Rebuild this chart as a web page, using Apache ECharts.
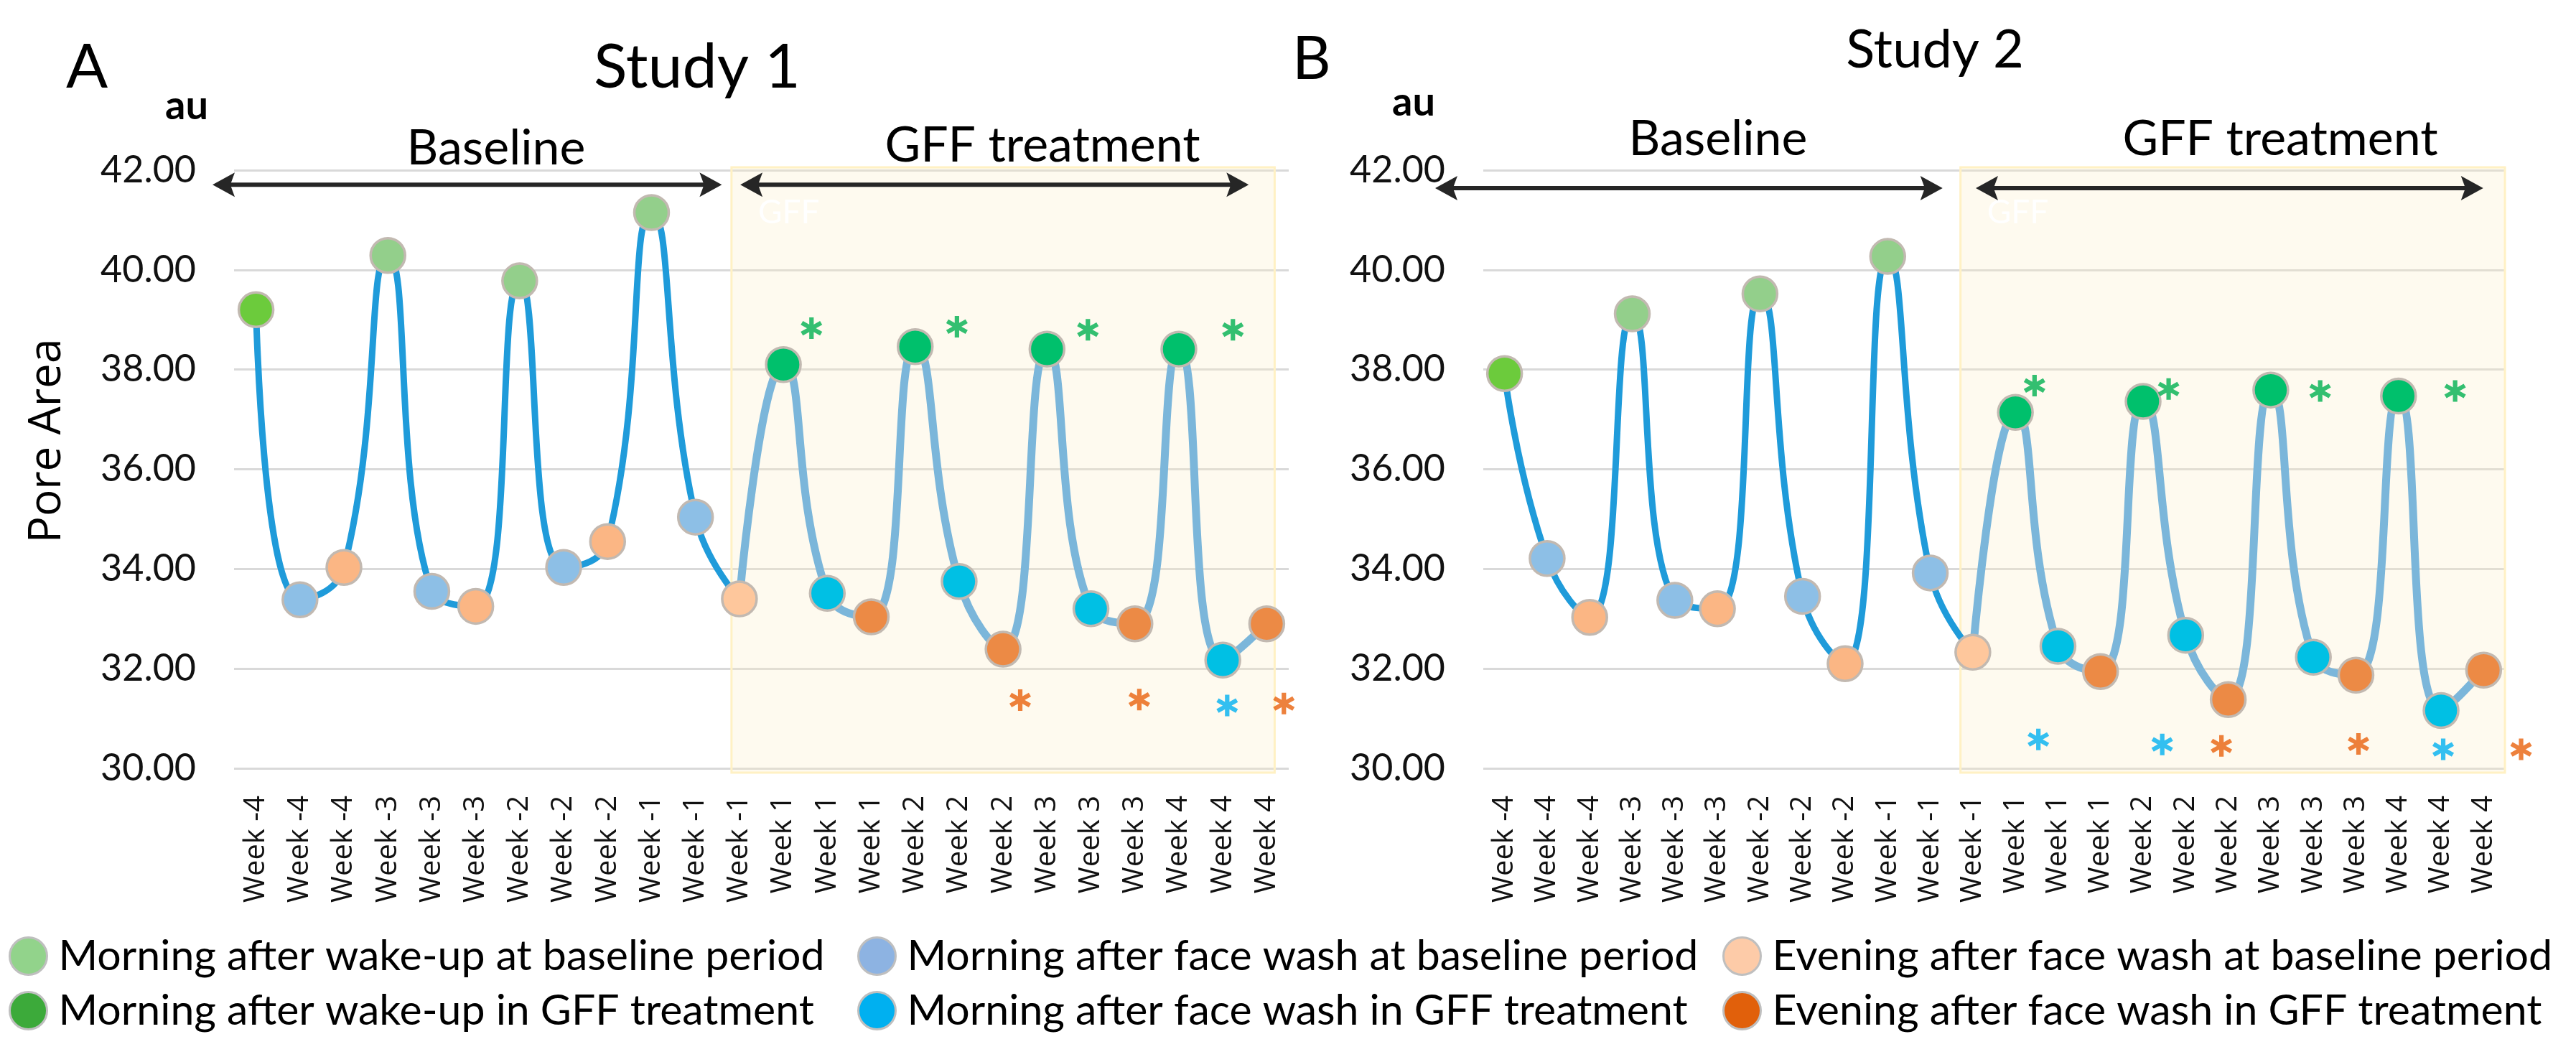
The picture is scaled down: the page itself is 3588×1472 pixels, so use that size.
<!DOCTYPE html>
<html><head><meta charset="utf-8">
<script src="https://cdn.jsdelivr.net/npm/echarts@6/dist/echarts.min.js"></script>
<style>html,body{margin:0;padding:0;background:#fff}#c{width:3588px;height:1472px}</style>
</head><body><div id="c"></div>
<script>
// ---------------- DATA ----------------
const categories = ['Week -4','Week -4','Week -4','Week -3','Week -3','Week -3','Week -2','Week -2','Week -2','Week -1','Week -1','Week -1',
                    'Week 1','Week 1','Week 1','Week 2','Week 2','Week 2','Week 3','Week 3','Week 3','Week 4','Week 4','Week 4'];
const pointTypes = ['wakeBase','washBase','eveBase','wakeBase','washBase','eveBase','wakeBase','washBase','eveBase','wakeBase','washBase','eveBase',
                    'wakeGFF','washGFF','eveGFF','wakeGFF','washGFF','eveGFF','wakeGFF','washGFF','eveGFF','wakeGFF','washGFF','eveGFF'];
const study1 = [39.20,33.38,34.03,40.29,33.55,33.25,39.78,34.03,34.55,41.15,35.04,33.40,
                38.10,33.51,33.04,38.46,33.75,32.39,38.41,33.20,32.90,38.41,32.17,32.90];
const study2 = [37.92,34.21,33.03,39.12,33.37,33.20,39.52,33.45,32.10,40.27,33.92,32.33,
                37.14,32.45,31.94,37.36,32.67,31.38,37.59,32.23,31.87,37.47,31.16,31.97];
const yMin = 30, yMax = 42, yStep = 2;
const baselineLastIndex = 11;
// significance asterisks (x in category-index units)
const study1StarX = [12.64,15.95,18.93,22.23,17.39,20.10,23.39,22.10];
const study1StarY = [38.83,38.86,38.80,38.80,31.37,31.38,31.30,31.26];
const study1StarType = ['wakeGFF','wakeGFF','wakeGFF','wakeGFF','eveGFF','eveGFF','eveGFF','washGFF'];
const study2StarX = [12.45,15.60,19.16,22.33,12.54,15.45,22.05,16.84,20.06,23.88];
const study2StarY = [37.68,37.61,37.57,37.57,30.58,30.48,30.38,30.45,30.49,30.38];
const study2StarType = ['wakeGFF','wakeGFF','wakeGFF','wakeGFF','washGFF','washGFF','washGFF','eveGFF','eveGFF','eveGFF'];
// period arrows [from, to, y] and treatment shading [from, to]
const study1Arrows = [[-0.99,10.60,41.71],[11.02,22.59,41.71]];
const study2Arrows = [[-1.63,10.29,41.64],[11.07,22.99,41.64]];
const study1Shade = [10.82,23.18];
const study2Shade = [10.71,23.50];
const seriesNames = {
  wakeBase:'Morning after wake-up at baseline period',
  wakeGFF:'Morning after wake-up in GFF treatment',
  washBase:'Morning after face wash at baseline period',
  washGFF:'Morning after face wash in GFF treatment',
  eveBase:'Evening after face wash at baseline period',
  eveGFF:'Evening after face wash in GFF treatment'
};
const typeOrder = ['wakeBase','washBase','eveBase','wakeGFF','washGFF','eveGFF'];

// ---------------- STYLE ----------------
const markerColor = {wakeBase:'#93CF8B', washBase:'#8DBFE6', eveBase:'#FBB684', wakeGFF:'#00C06C', washGFF:'#00C0E4', eveGFF:'#EC8A45'};
const markerOverride = {0:'#6CCB3C', 11:'#FEC79C'};
const legendColor = {wakeBase:'#92D38B', washBase:'#8DB3E2', eveBase:'#FDCBA8', wakeGFF:'#3CAA3A', washGFF:'#00B0F0', eveGFF:'#E1600B'};
const starColor = {wakeGFF:'#00B050', washGFF:'#00B0F0', eveGFF:'#E8620C'};
const baseLineColor = '#1F9BDA', gffLineColor = '#7BB6DA';
const F = 'Lato, "Open Sans", sans-serif';
const asterisk = 'path://M40 0L60 0L60 100L40 100Z M11.7 16.34L98.3 66.34L88.3 83.66L1.7 33.66Z M98.3 33.66L11.7 83.66L1.7 66.34L88.3 16.34Z';

const grids = [{left:326, top:237, width:1469, height:833}, {left:2066, top:237, width:1423, height:833}];

const xAxes = [], yAxes = [], series = [];
function panel(g, values, starX, starY, starType, arrows, shade) {
  xAxes.push({type:'category', gridIndex:g, data:categories, boundaryGap:true,
    axisLine:{show:false}, axisTick:{show:false}, splitLine:{show:false},
    axisLabel:{rotate:90, interval:0, margin:38, fontSize:40, fontFamily:'"Open Sans", sans-serif', color:'#111'}});
  xAxes.push({type:'value', gridIndex:g, min:-0.5, max:categories.length-0.5, show:false});
  yAxes.push({type:'value', gridIndex:g, min:yMin, max:yMax, interval:yStep,
    axisLine:{show:false}, axisTick:{show:false},
    splitLine:{lineStyle:{color:'#D9D9D9', width:3}},
    axisLabel:{formatter:v=>v.toFixed(2), fontSize:52, margin:53, fontFamily:F, color:'#111'}});
  const xc = g*2, xv = g*2+1;
  // shading
  series.push({type:'custom', xAxisIndex:xv, yAxisIndex:g, z:1, silent:true, clip:false,
    data:[[shade[0], shade[1]]], encode:{x:[0,1]},
    renderItem:(p, api)=>{
      const a = api.coord([api.value(0), yMax]); const b = api.coord([api.value(1), yMin]);
      return {type:'group', children:[
        {type:'rect', shape:{x:a[0], y:a[1]-4, width:b[0]-a[0], height:b[1]-a[1]+10},
          style:{fill:'rgba(250,236,196,0.28)', stroke:'#FFF1C4', lineWidth:3}},
        {type:'text', x:a[0]+37, y:a[1]+36, style:{text:'GFF', fill:'#ffffff', font:'46px '+F}}
      ]};
    }});
  // arrows
  series.push({type:'custom', xAxisIndex:xv, yAxisIndex:g, z:5, silent:true, clip:false,
    data:arrows, encode:{x:[0,1], y:2},
    renderItem:(p, api)=>{
      const y = api.value(2);
      const a = api.coord([api.value(0), y]); const b = api.coord([api.value(1), y]);
      const L = 31, W = 17, c = '#262626';
      return {type:'group', children:[
        {type:'line', shape:{x1:a[0]+20, y1:a[1], x2:b[0]-20, y2:b[1]}, style:{stroke:c, lineWidth:6}},
        {type:'polygon', shape:{points:[[a[0],a[1]],[a[0]+L,a[1]-W],[a[0]+L*0.8,a[1]],[a[0]+L,a[1]+W]]}, style:{fill:c}},
        {type:'polygon', shape:{points:[[b[0],b[1]],[b[0]-L,b[1]-W],[b[0]-L*0.8,b[1]],[b[0]-L,b[1]+W]]}, style:{fill:c}}
      ]};
    }});
  // lines
  series.push({type:'line', xAxisIndex:xc, yAxisIndex:g, z:3, silent:true, smooth:0.5, showSymbol:false,
    data:values.map((v,i)=> i<=baselineLastIndex ? v : '-'),
    lineStyle:{color:baseLineColor, width:9}});
  series.push({type:'line', xAxisIndex:xc, yAxisIndex:g, z:3, silent:true, smooth:0.5, showSymbol:false,
    data:values.map((v,i)=> i>=baselineLastIndex ? v : '-'),
    lineStyle:{color:gffLineColor, width:11}});
  // markers per type
  typeOrder.forEach(t=>{
    const d = [];
    values.forEach((v,i)=>{ if (pointTypes[i]===t) d.push(markerOverride[i] ? {value:[i,v], itemStyle:{color:markerOverride[i]}} : [i,v]); });
    series.push({type:'scatter', name:seriesNames[t], xAxisIndex:xc, yAxisIndex:g, z:4, silent:true,
      symbol:'circle', symbolSize:48, data:d,
      itemStyle:{color:markerColor[t], borderColor:'#C2B9B1', borderWidth:3.5, opacity:1}});
  });
  // asterisks
  series.push({type:'scatter', xAxisIndex:xv, yAxisIndex:g, z:5, silent:true, clip:false,
    symbol:asterisk, symbolSize:[30,30],
    data:starX.map((x,i)=>({value:[x, starY[i]], itemStyle:{color:starColor[starType[i]]}}))});
}
panel(0, study1, study1StarX, study1StarY, study1StarType, study1Arrows, study1Shade);
panel(1, study2, study2StarX, study2StarY, study2StarType, study2Arrows, study2Shade);

function legendCol(left, types) {
  return {orient:'vertical', left:left, top:1297, itemWidth:74, itemHeight:52, itemGap:17, selectedMode:false,
    textStyle:{fontSize:59, fontFamily:F, color:'#000'},
    data:types.map(t=>({name:seriesNames[t], icon:'circle', itemStyle:{color:legendColor[t], borderColor:'#BFBFBF', borderWidth:3}}))};
}

function txt(text, x, y, size, opts) {
  return Object.assign({type:'text', x:x, y:y, silent:true,
    style:{text:text, font:(opts&&opts.weight||'normal')+' '+size+'px '+F, fill:'#000',
      textAlign:(opts&&opts.align)||'center', textVerticalAlign:'middle'}}, opts&&opts.extra||{});
}

const option = {
  backgroundColor:'#ffffff',
  animation:false,
  grid:grids,
  xAxis:xAxes, yAxis:yAxes, series:series,
  legend:[legendCol(7, ['wakeBase','wakeGFF']), legendCol(1189, ['washBase','washGFF']), legendCol(2394, ['eveBase','eveGFF'])],
  graphic:[
    txt('A', 92, 94, 86, {align:'left'}),
    txt('Study 1', 971, 94, 86),
    txt('au', 230, 148, 56, {align:'left', weight:'bold'}),
    txt('Baseline', 691, 207, 68),
    txt('GFF treatment', 1452, 203, 68),
    txt('B', 1800, 83, 83, {align:'left'}),
    txt('Study 2', 2695, 70, 74),
    txt('au', 1939, 143, 56, {align:'left', weight:'bold'}),
    txt('Baseline', 2393, 194, 68),
    txt('GFF treatment', 3176, 194, 68),
    {type:'text', x:66, y:614, rotation:Math.PI/2, silent:true,
      style:{text:'Pore Area', font:'62px "Open Sans", sans-serif', fill:'#000', textAlign:'center', textVerticalAlign:'middle'}}
  ]
};
const chart = echarts.init(document.getElementById('c'));
chart.setOption(option);
</script></body></html>
